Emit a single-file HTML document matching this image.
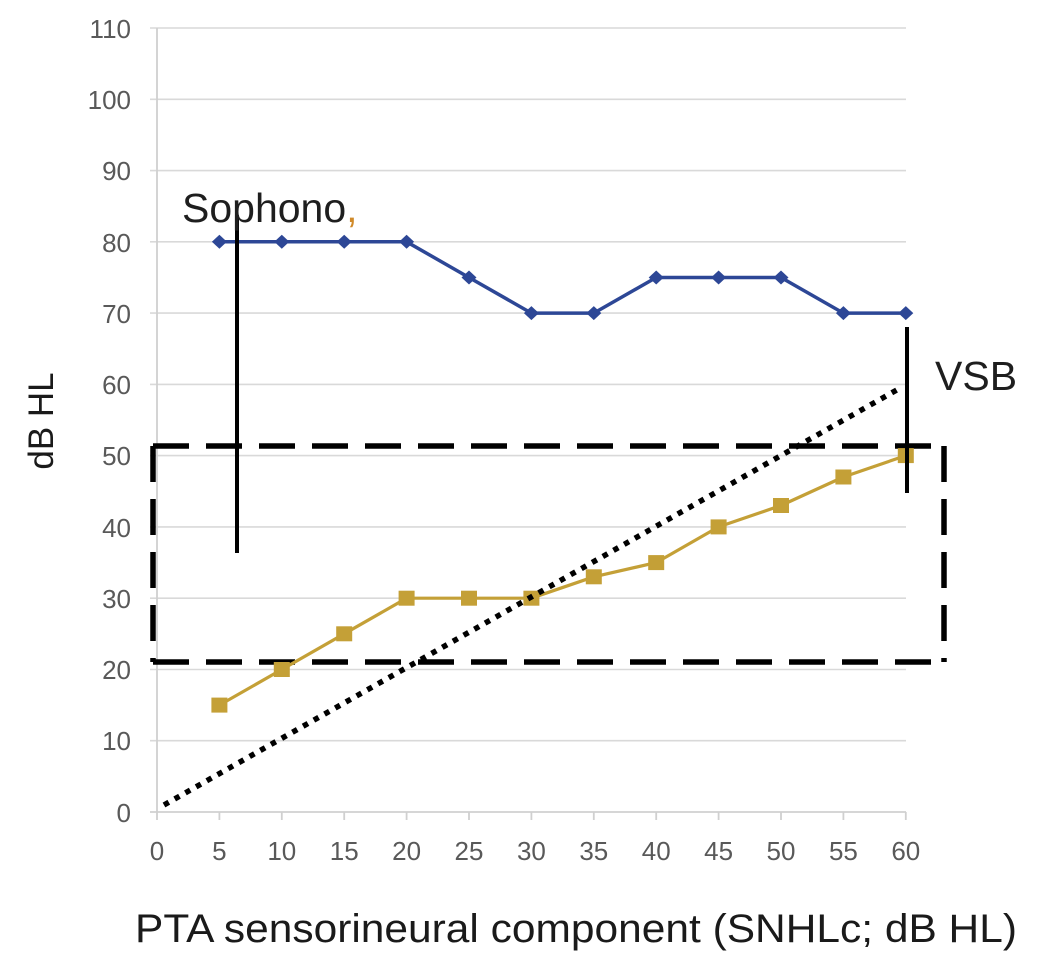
<!DOCTYPE html>
<html>
<head>
<meta charset="utf-8">
<style>
  html, body { margin: 0; padding: 0; background: #fff; }
  svg { display: block; }
  text { font-family: "Liberation Sans", Arial, sans-serif; }
</style>
</head>
<body>
<svg width="1063" height="971" viewBox="0 0 1063 971" xmlns="http://www.w3.org/2000/svg">
  <rect x="0" y="0" width="1063" height="971" fill="#ffffff"/>

  <!-- gridlines -->
  <g stroke="#d9d9d9" stroke-width="1.6">
    <line x1="150" y1="28" x2="906" y2="28"/>
    <line x1="150" y1="99.3" x2="906" y2="99.3"/>
    <line x1="150" y1="170.6" x2="906" y2="170.6"/>
    <line x1="150" y1="241.8" x2="906" y2="241.8"/>
    <line x1="150" y1="313.1" x2="906" y2="313.1"/>
    <line x1="150" y1="384.4" x2="906" y2="384.4"/>
    <line x1="150" y1="455.6" x2="906" y2="455.6"/>
    <line x1="150" y1="526.9" x2="906" y2="526.9"/>
    <line x1="150" y1="598.2" x2="906" y2="598.2"/>
    <line x1="150" y1="669.5" x2="906" y2="669.5"/>
    <line x1="150" y1="740.7" x2="906" y2="740.7"/>
  </g>
  <!-- axes -->
  <g stroke="#d0d0d0" stroke-width="1.8">
    <line x1="150" y1="812" x2="906" y2="812"/>
    <line x1="157" y1="28" x2="157" y2="820"/>
    <line x1="219.4" y1="812" x2="219.4" y2="820"/>
    <line x1="281.8" y1="812" x2="281.8" y2="820"/>
    <line x1="344.2" y1="812" x2="344.2" y2="820"/>
    <line x1="406.6" y1="812" x2="406.6" y2="820"/>
    <line x1="469" y1="812" x2="469" y2="820"/>
    <line x1="531.4" y1="812" x2="531.4" y2="820"/>
    <line x1="593.8" y1="812" x2="593.8" y2="820"/>
    <line x1="656.2" y1="812" x2="656.2" y2="820"/>
    <line x1="718.6" y1="812" x2="718.6" y2="820"/>
    <line x1="781" y1="812" x2="781" y2="820"/>
    <line x1="843.4" y1="812" x2="843.4" y2="820"/>
    <line x1="905.8" y1="812" x2="905.8" y2="820"/>
  </g>

  <!-- y tick labels -->
  <g fill="#595959" font-size="26" text-anchor="end">
    <text x="131" y="38">110</text>
    <text x="131" y="109">100</text>
    <text x="131" y="180">90</text>
    <text x="131" y="252">80</text>
    <text x="131" y="323">70</text>
    <text x="131" y="394">60</text>
    <text x="131" y="465">50</text>
    <text x="131" y="537">40</text>
    <text x="131" y="608">30</text>
    <text x="131" y="679">20</text>
    <text x="131" y="750">10</text>
    <text x="131" y="822">0</text>
  </g>
  <!-- x tick labels -->
  <g fill="#595959" font-size="26" text-anchor="middle">
    <text x="157" y="860">0</text>
    <text x="219.4" y="860">5</text>
    <text x="281.8" y="860">10</text>
    <text x="344.2" y="860">15</text>
    <text x="406.6" y="860">20</text>
    <text x="469" y="860">25</text>
    <text x="531.4" y="860">30</text>
    <text x="593.8" y="860">35</text>
    <text x="656.2" y="860">40</text>
    <text x="718.6" y="860">45</text>
    <text x="781" y="860">50</text>
    <text x="843.4" y="860">55</text>
    <text x="905.8" y="860">60</text>
  </g>

  <!-- dashed rectangle -->
  <g stroke="#000" stroke-width="5.5" stroke-dasharray="36 17" fill="none">
    <line x1="153" y1="446" x2="944" y2="446"/>
    <line x1="944" y1="446" x2="944" y2="662"/>
    <line x1="153" y1="662" x2="944" y2="662"/>
    <line x1="153" y1="446" x2="153" y2="662"/>
  </g>

  <!-- blue series -->
  <polyline fill="none" stroke="#2d4796" stroke-width="3.5" stroke-linejoin="round"
    points="219.4,241.8 281.8,241.8 344.2,241.8 406.6,241.8 469,277.5 531.4,313.1 593.8,313.1 656.2,277.5 718.6,277.5 781,277.5 843.4,313.1 905.8,313.1"/>
  <g fill="#2d4796">
    <polygon points="219.4,234.8 226.9,241.8 219.4,248.8 211.9,241.8"/>
    <polygon points="281.8,234.8 289.3,241.8 281.8,248.8 274.3,241.8"/>
    <polygon points="344.2,234.8 351.7,241.8 344.2,248.8 336.7,241.8"/>
    <polygon points="406.6,234.8 414.1,241.8 406.6,248.8 399.1,241.8"/>
    <polygon points="469,270.5 476.5,277.5 469,284.5 461.5,277.5"/>
    <polygon points="531.4,306.1 538.9,313.1 531.4,320.1 523.9,313.1"/>
    <polygon points="593.8,306.1 601.3,313.1 593.8,320.1 586.3,313.1"/>
    <polygon points="656.2,270.5 663.7,277.5 656.2,284.5 648.7,277.5"/>
    <polygon points="718.6,270.5 726.1,277.5 718.6,284.5 711.1,277.5"/>
    <polygon points="781,270.5 788.5,277.5 781,284.5 773.5,277.5"/>
    <polygon points="843.4,306.1 850.9,313.1 843.4,320.1 835.9,313.1"/>
    <polygon points="905.8,306.1 913.3,313.1 905.8,320.1 898.3,313.1"/>
  </g>

  <!-- gold series -->
  <polyline fill="none" stroke="#c4a037" stroke-width="3.2" stroke-linejoin="round"
    points="219.4,705.1 281.8,669.5 344.2,633.8 406.6,598.2 469,598.2 531.4,598.2 593.8,576.8 656.2,562.6 718.6,526.9 781,505.5 843.4,477 905.8,455.6"/>
  <g fill="#c4a037">
    <rect x="211.4" y="697.6" width="16" height="15"/>
    <rect x="273.8" y="662" width="16" height="15"/>
    <rect x="336.2" y="626.3" width="16" height="15"/>
    <rect x="398.6" y="590.7" width="16" height="15"/>
    <rect x="461" y="590.7" width="16" height="15"/>
    <rect x="523.4" y="590.7" width="16" height="15"/>
    <rect x="585.8" y="569.3" width="16" height="15"/>
    <rect x="648.2" y="555.1" width="16" height="15"/>
    <rect x="710.6" y="519.4" width="16" height="15"/>
    <rect x="773" y="498" width="16" height="15"/>
    <rect x="835.4" y="469.5" width="16" height="15"/>
    <rect x="897.8" y="448.1" width="16" height="15"/>
  </g>

  <!-- dotted diagonal -->
  <line x1="164" y1="805" x2="902" y2="387" stroke="#000" stroke-width="5.5" stroke-dasharray="5.5 6.8"/>

  <!-- vertical black bars -->
  <line x1="237" y1="215" x2="237" y2="553" stroke="#000" stroke-width="4"/>
  <line x1="907" y1="327" x2="907" y2="493" stroke="#000" stroke-width="4"/>

  <!-- annotations -->
  <text x="182" y="222" font-size="41" fill="#1e1e1e">Sophono<tspan fill="#d08a2a">,</tspan></text>
  <text x="935" y="390" font-size="41" fill="#1e1e1e">VSB</text>

  <!-- axis titles -->
  <text x="135" y="942" font-size="40" fill="#1a1a1a" textLength="882" lengthAdjust="spacingAndGlyphs">PTA  sensorineural component (SNHLc; dB HL)</text>
  <text transform="translate(53,421) rotate(-90)" font-size="35" fill="#1a1a1a" text-anchor="middle">dB HL</text>
</svg>
</body>
</html>
